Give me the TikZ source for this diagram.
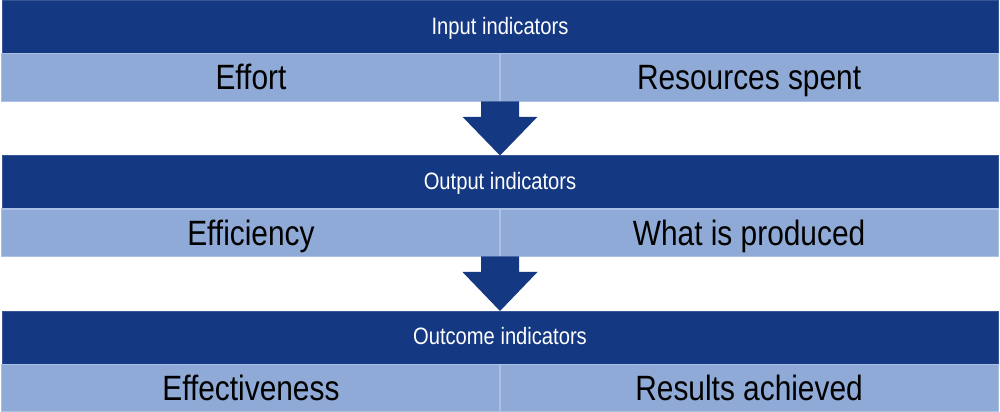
\documentclass[tikz,border=0pt]{standalone}
\usepackage{fontspec}
\setmainfont{Liberation Sans}
\newfontfamily\narrowfont[FakeStretch=0.85]{Liberation Sans}
\usetikzlibrary{calc}
\definecolor{darkband}{RGB}{21,56,130}
\definecolor{lightband}{RGB}{143,170,214}
\definecolor{lightline}{RGB}{170,192,228}
\begin{document}
\begin{tikzpicture}[x=0.02cm,y=-0.02cm]
\tikzset{
  header/.style={fill=darkband, draw=darkband!85!white, line width=0.3pt,
    minimum width=19.93cm, minimum height=1.07cm, inner sep=0pt, outer sep=0pt,
    text height=9.5pt, text depth=1.3pt,
    text=white, font=\narrowfont\fontsize{13.5}{16}\selectfont},
  cell/.style={fill=lightband, draw=lightline, line width=0.6pt,
    minimum width=9.965cm, minimum height=0.95cm, inner sep=0pt, outer sep=0pt,
    text height=16pt, text depth=2pt,
    text=black, font=\narrowfont\fontsize{20}{24}\selectfont},
  downarrow/.style={fill=darkband, draw=none}
}
\useasboundingbox (0,0) rectangle (1000,412);
\fill[white] (0,0) rectangle (1000,412);

% group 1
\node[header, anchor=north] (h1) at (500,0.3) {Input indicators};
\node[cell, anchor=north east] (l1) at (h1.south) {Effort};
\node[cell, anchor=north west] (r1) at (h1.south) {Resources spent};

% group 2
\node[header, anchor=north] (h2) at (500,155.5) {Output indicators};
\node[cell, anchor=north east] (l2) at (h2.south) {Efficiency};
\node[cell, anchor=north west] (r2) at (h2.south) {What is produced};

% group 3
\node[header, anchor=north] (h3) at (500,311) {Outcome indicators};
\node[cell, anchor=north east] (l3) at (h3.south) {Effectiveness};
\node[cell, anchor=north west] (r3) at (h3.south) {Results achieved};

% arrows
\foreach \a/\b in {l1/h2, l2/h3}{
  \fill[downarrow]
    ($(\a.south east)+(-19,0)$) -- ($(\a.south east)+(-19,15.5)$)
    -- ($(\a.south east)+(-37.5,15.5)$) -- (\b.north)
    -- ($(\a.south east)+(37.5,15.5)$) -- ($(\a.south east)+(19,15.5)$)
    -- ($(\a.south east)+(19,0)$) -- cycle;
}
\end{tikzpicture}
\end{document}
